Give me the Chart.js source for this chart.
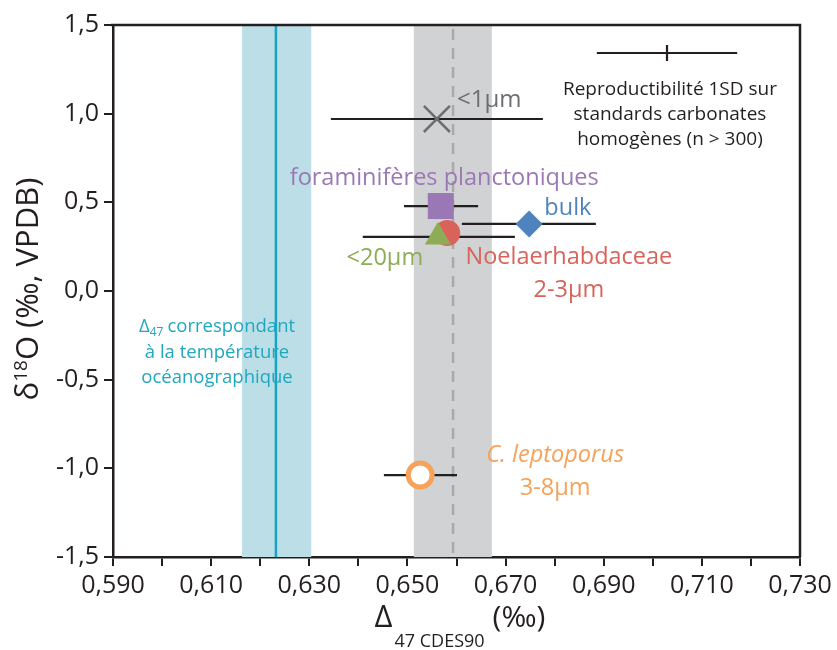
<!DOCTYPE html>
<html>
<head>
<title>Δ47 vs δ18O</title>
<script src="https://cdn.jsdelivr.net/npm/chart.js"></script>
<style>
  body { margin: 0; background: #fff; }
</style>
</head>
<body>
<canvas id="chart" width="837" height="650"></canvas>
<script>
// Samples (Δ47 CDES90 in ‰, δ18O in ‰ VPDB)
const sampleNames = ['<1µm', 'foraminifères planctoniques', 'bulk', 'Noelaerhabdaceae 2-3µm', '<20µm', 'C. leptoporus 3-8µm'];
const d47 = [0.6560, 0.6568, 0.6748, 0.6581, 0.6562, 0.6526];
const d18O = [0.970, 0.479, 0.378, 0.327, 0.305, -1.038];
// horizontal error bars (min / max of Δ47), null = hidden
const d47Low = [0.6344, 0.6493, 0.6611, null, 0.6409, 0.6452];
const d47High = [0.6776, 0.6644, 0.6884, null, 0.6719, 0.6601];

// oceanographic temperature Δ47 (band + value) and sample mean band
const tempBand = [0.6163, 0.6304];
const tempValue = 0.6232;
const meanBand = [0.6513, 0.6672];
const meanValue = 0.6593;

// reproducibility bar (1SD) drawn in the corner
const reproCenter = [0.7029, 1.342];
const reproSD = 0.0143;

// axis ticks
const xTickValues = [0.59, 0.60, 0.61, 0.62, 0.63, 0.64, 0.65, 0.66, 0.67, 0.68, 0.69, 0.70, 0.71, 0.72, 0.73];
const xTickLabels = ['0,590', '0,610', '0,630', '0,650', '0,670', '0,690', '0,710', '0,730'];
const yTickValues = [-1.5, -1.0, -0.5, 0, 0.5, 1.0, 1.5];
const yTickLabels = ['-1,5', '-1,0', '-0,5', '0,0', '0,5', '1,0', '1,5'];

// marker looks
const markerStyles = ['crossRot', 'rect', 'rectRot', 'circle', 'triangle', 'circle'];
const markerRadii = [18.4, 18.4, 13.5, 13, 15, 12];
const markerFill = ['#6d6e71', '#9a78b5', '#4f83bd', '#d9635a', '#8dac55', '#ffffff'];
const markerLine = ['#6d6e71', '#9a78b5', '#4f83bd', '#d9635a', '#8dac55', '#f6a25a'];
const markerLineWidth = [2.5, 0, 0, 0, 0, 5];

const FONT = '"Open Sans", sans-serif';
const INK = '#231f20';

// text labels placed in data coordinates
const notes = [
  { lines: ['<1μm'], x: 0.6601, y: 1.077, color: '#6d6e71', size: 24, align: 'left' },
  { lines: ['Reproductibilité 1SD sur', 'standards carbonates', 'homogènes (n > 300)'], x: 0.7035, y: 1.134, color: INK, size: 19, gap: 0.141 },
  { lines: ['foraminifères planctoniques'], x: 0.6575, y: 0.637, color: '#9a78b5', size: 23.5 },
  { lines: ['bulk'], x: 0.6827, y: 0.468, color: '#4f83bd', size: 23.5 },
  { lines: ['Noelaerhabdaceae', '2-3μm'], x: 0.6829, y: 0.192, color: '#d9635a', size: 23.5, gap: 0.186 },
  { lines: ['<20μm'], x: 0.6454, y: 0.186, color: '#8dac55', size: 23.5 },
  { lines: ['C. leptoporus'], x: 0.6801, y: -0.925, color: '#f6a25a', size: 23.5, italic: true },
  { lines: ['3-8μm'], x: 0.6801, y: -1.111, color: '#f6a25a', size: 23.5 },
  { lines: ['à la température', 'océanographique'], x: 0.6112, y: -0.350, color: '#1fa8c0', size: 18.5, gap: 0.138 }
];

function drawRuns(ctx, runs, x, y, align) {
  let total = 0;
  runs.forEach(r => {
    ctx.font = (r.italic ? 'italic ' : '') + r.size + 'px ' + FONT;
    r.w = ctx.measureText(r.t).width;
    total += r.w + (r.after || 0);
  });
  let cx = align === 'left' ? x : x - total / 2;
  runs.forEach(r => {
    ctx.font = (r.italic ? 'italic ' : '') + r.size + 'px ' + FONT;
    ctx.textAlign = 'left';
    ctx.fillText(r.t, cx, y + (r.dy || 0));
    cx += r.w + (r.after || 0);
  });
}

const overlay = {
  id: 'overlay',
  beforeDatasetsDraw(chart) {
    const { ctx, chartArea: a, scales: { x, y } } = chart;
    ctx.save();
    ctx.beginPath();
    ctx.rect(a.left, a.top, a.width, a.height);
    ctx.clip();

    // bands
    ctx.fillStyle = '#bcdee6';
    let x0 = x.getPixelForValue(tempBand[0]), x1 = x.getPixelForValue(tempBand[1]);
    ctx.fillRect(x0, a.top, x1 - x0, a.height);
    ctx.fillStyle = '#d1d2d3';
    x0 = x.getPixelForValue(meanBand[0]); x1 = x.getPixelForValue(meanBand[1]);
    ctx.fillRect(x0, a.top, x1 - x0, a.height);

    // vertical lines
    ctx.lineWidth = 2.5;
    ctx.strokeStyle = '#17a5c3';
    let px = x.getPixelForValue(tempValue);
    ctx.beginPath(); ctx.moveTo(px, a.top); ctx.lineTo(px, a.bottom); ctx.stroke();
    ctx.strokeStyle = '#a7a9ac';
    ctx.setLineDash([11, 8]);
    px = x.getPixelForValue(meanValue);
    ctx.beginPath(); ctx.moveTo(px, a.top + 4); ctx.lineTo(px, a.bottom); ctx.stroke();
    ctx.setLineDash([]);

    // error bars
    ctx.strokeStyle = INK;
    ctx.lineWidth = 2.2;
    d47.forEach((v, i) => {
      if (d47Low[i] == null) return;
      const py = y.getPixelForValue(d18O[i]);
      ctx.beginPath();
      ctx.moveTo(x.getPixelForValue(d47Low[i]), py);
      ctx.lineTo(x.getPixelForValue(d47High[i]), py);
      ctx.stroke();
    });

    // reproducibility bar
    const ry = y.getPixelForValue(reproCenter[1]);
    const rx = x.getPixelForValue(reproCenter[0]);
    ctx.beginPath();
    ctx.moveTo(x.getPixelForValue(reproCenter[0] - reproSD), ry);
    ctx.lineTo(x.getPixelForValue(reproCenter[0] + reproSD), ry);
    ctx.moveTo(rx, ry - 8);
    ctx.lineTo(rx, ry + 8);
    ctx.stroke();
    ctx.restore();
  },
  afterDraw(chart) {
    const { ctx, chartArea: a, scales: { x, y } } = chart;
    ctx.save();

    // frame top / right
    ctx.strokeStyle = INK;
    ctx.lineWidth = 2.5;
    ctx.beginPath();
    ctx.moveTo(a.left - 2, a.top);
    ctx.lineTo(a.right, a.top);
    ctx.lineTo(a.right, a.bottom);
    ctx.stroke();

    // notes
    ctx.textBaseline = 'middle';
    notes.forEach(n => {
      ctx.fillStyle = n.color;
      ctx.font = (n.italic ? 'italic ' : '') + n.size + 'px ' + FONT;
      ctx.textAlign = n.align || 'center';
      n.lines.forEach((t, k) => {
        ctx.fillText(t, x.getPixelForValue(n.x), y.getPixelForValue(n.y - k * (n.gap || 0)));
      });
    });

    // Δ47 line of the teal note
    ctx.fillStyle = '#1fa8c0';
    drawRuns(ctx, [
      { t: 'Δ', size: 18.5 },
      { t: '47', size: 12, dy: 6, after: 4 },
      { t: 'correspondant', size: 18.5 }
    ], x.getPixelForValue(0.6112), y.getPixelForValue(-0.203));

    // axis titles
    ctx.fillStyle = INK;
    ctx.textBaseline = 'alphabetic';
    drawRuns(ctx, [
      { t: 'Δ', size: 31, after: 2 },
      { t: '47 CDES90', size: 18, dy: 20, after: 8 },
      { t: '(‰)', size: 30 }
    ], 460, 627);

    ctx.translate(38, 289);
    ctx.rotate(-Math.PI / 2);
    drawRuns(ctx, [
      { t: 'δ', size: 31 },
      { t: '18', size: 19, dy: -11 },
      { t: 'O (‰, VPDB)', size: 31 }
    ], 0, 0);
    ctx.restore();
  }
};

new Chart(document.getElementById('chart'), {
  type: 'scatter',
  data: {
    datasets: [{
      label: 'Échantillons',
      data: d47.map((v, i) => ({ x: v, y: d18O[i] })),
      pointStyle: markerStyles,
      pointRadius: markerRadii,
      pointHoverRadius: markerRadii,
      backgroundColor: markerFill,
      borderColor: markerLine,
      borderWidth: markerLineWidth,
      pointBorderWidth: markerLineWidth
    }]
  },
  options: {
    responsive: false,
    animation: false,
    events: [],
    layout: { padding: { top: 25, right: 37, left: 0, bottom: 0 } },
    plugins: { legend: { display: false }, tooltip: { enabled: false } },
    scales: {
      x: {
        type: 'linear',
        min: 0.59,
        max: 0.73,
        afterBuildTicks: s => { s.ticks = xTickValues.map(v => ({ value: v })); },
        afterFit: s => { s.height = 93; },
        ticks: {
          autoSkip: false,
          maxRotation: 0,
          padding: 5,
          color: INK,
          font: { family: FONT, size: 25 },
          callback: (v, i) => (i % 2 === 0 ? xTickLabels[i / 2] : '')
        },
        grid: { drawOnChartArea: false, drawTicks: true, tickLength: 9, color: INK, lineWidth: 2 },
        border: { display: true, color: INK, width: 2.5 }
      },
      y: {
        type: 'linear',
        min: -1.5,
        max: 1.5,
        afterBuildTicks: s => { s.ticks = yTickValues.map(v => ({ value: v })); },
        afterFit: s => { s.width = 113; },
        ticks: {
          autoSkip: false,
          padding: 5,
          color: INK,
          font: { family: FONT, size: 25 },
          callback: (v, i) => yTickLabels[i]
        },
        grid: { drawOnChartArea: false, drawTicks: true, tickLength: 9, color: INK, lineWidth: 2 },
        border: { display: true, color: INK, width: 2.5 }
      }
    }
  },
  plugins: [overlay]
});
</script>
</body>
</html>
